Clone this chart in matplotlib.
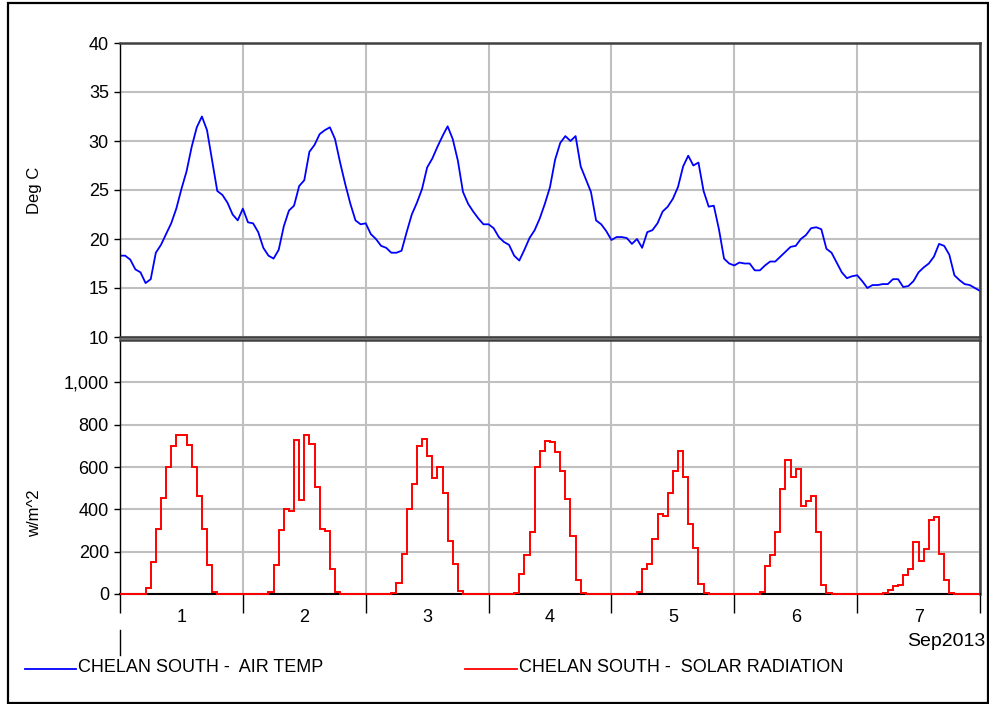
import numpy as np
import matplotlib
matplotlib.use("Agg")
import matplotlib.pyplot as plt
from matplotlib.lines import Line2D
from matplotlib.patches import Rectangle
from matplotlib.ticker import FuncFormatter

plt.rcParams['font.family'] = ['Liberation Sans', 'DejaVu Sans']

# hourly air temperature, deg C, 1-7 Sep 2013 (one list per day)
temp_d1 = [18.3, 18.3, 17.9, 16.9, 16.6, 15.5, 15.9, 18.6, 19.4, 20.5, 21.6, 23.1,
           25.1, 26.9, 29.4, 31.4, 32.5, 31.1, 28.0, 24.9, 24.5, 23.7, 22.5, 21.9]
temp_d2 = [23.1, 21.7, 21.6, 20.7, 19.1, 18.3, 18.0, 18.9, 21.3, 22.9, 23.4, 25.4,
           26.0, 28.9, 29.6, 30.7, 31.1, 31.4, 30.2, 27.8, 25.6, 23.6, 21.9, 21.5]
temp_d3 = [21.6, 20.5, 20.0, 19.3, 19.1, 18.6, 18.6, 18.8, 20.7, 22.5, 23.7, 25.1,
           27.3, 28.2, 29.4, 30.5, 31.5, 30.2, 28.0, 24.8, 23.6, 22.8, 22.1, 21.5]
temp_d4 = [21.5, 21.1, 20.2, 19.7, 19.4, 18.3, 17.8, 18.9, 20.1, 20.9, 22.1, 23.6,
           25.3, 28.1, 29.8, 30.5, 30.0, 30.5, 27.4, 26.1, 24.8, 21.9, 21.5, 20.8]
temp_d5 = [19.9, 20.2, 20.2, 20.1, 19.5, 20.0, 19.1, 20.7, 20.9, 21.6, 22.8, 23.3,
           24.1, 25.3, 27.4, 28.5, 27.5, 27.8, 24.9, 23.3, 23.4, 21.0, 18.0, 17.5]
temp_d6 = [17.3, 17.6, 17.5, 17.5, 16.8, 16.8, 17.3, 17.7, 17.7, 18.2, 18.7, 19.2,
           19.3, 20.0, 20.4, 21.1, 21.2, 21.0, 19.0, 18.6, 17.6, 16.6, 16.0, 16.2]
temp_d7 = [16.3, 15.7, 15.0, 15.3, 15.3, 15.4, 15.4, 15.9, 15.9, 15.1, 15.2, 15.7,
           16.6, 17.1, 17.5, 18.2, 19.5, 19.3, 18.4, 16.3, 15.8, 15.4, 15.3, 15.0]
temp_end = [14.7]

# hourly solar radiation, w/m^2 (one list per day)
sol_d1 = [0, 0, 0, 0, 0, 27, 153, 307, 455, 602, 700, 751,
          751, 705, 602, 465, 305, 139, 8, 0, 0, 0, 0, 0]
sol_d2 = [0, 0, 0, 0, 0, 8, 139, 302, 400, 392, 726, 444,
          749, 708, 504, 307, 299, 120, 8, 0, 0, 0, 0, 0]
sol_d3 = [0, 0, 0, 0, 0, 5, 52, 191, 402, 520, 697, 734,
          653, 547, 598, 476, 251, 144, 14, 0, 0, 0, 0, 0]
sol_d4 = [0, 0, 0, 0, 0, 6, 93, 185, 291, 602, 674, 721,
          718, 670, 579, 447, 275, 65, 6, 0, 0, 0, 0, 0]
sol_d5 = [0, 0, 0, 0, 0, 9, 120, 141, 262, 378, 370, 479,
          579, 674, 552, 329, 217, 46, 5, 0, 0, 0, 0, 0]
sol_d6 = [0, 0, 0, 0, 0, 8, 131, 183, 291, 498, 631, 552,
          590, 416, 441, 463, 294, 44, 5, 0, 0, 0, 0, 0]
sol_d7 = [0, 0, 0, 0, 0, 5, 21, 36, 43, 92, 119, 247,
          157, 212, 349, 364, 188, 65, 5, 0, 0, 0, 0, 0]

day_labels = ["1", "2", "3", "4", "5", "6", "7"]
month_label = "Sep2013"
temp_name = "CHELAN SOUTH -  AIR TEMP"
sol_name = "CHELAN SOUTH -  SOLAR RADIATION"

temp = temp_d1 + temp_d2 + temp_d3 + temp_d4 + temp_d5 + temp_d6 + temp_d7 + temp_end
sol = sol_d1 + sol_d2 + sol_d3 + sol_d4 + sol_d5 + sol_d6 + sol_d7
hours = np.arange(len(temp))
ndays = len(day_labels)

W, H = 989, 704
fig = plt.figure(figsize=(W / 100, H / 100), dpi=100)

def fx(px):
    return px / W

def fy(py):
    return 1 - py / H

ax1 = fig.add_axes([fx(120), fy(337), fx(980) - fx(120), fy(43) - fy(337)])
ax2 = fig.add_axes([fx(120), fy(594), fx(980) - fx(120), fy(340) - fy(594)])

grid_c = "#c0c0c0"
dark = "#404040"

for ax in (ax1, ax2):
    ax.set_xlim(0, 24 * ndays)
    ax.set_xticks(np.arange(0, 24 * ndays + 1, 24))
    ax.grid(True, color=grid_c, lw=1.5)
    ax.set_axisbelow(True)
    ax.spines['left'].set_color('black')
    ax.spines['left'].set_linewidth(1.0)
    for s in ('top', 'right'):
        ax.spines[s].set_color(dark)
        ax.spines[s].set_linewidth(1.8)
    ax.tick_params(axis='y', direction='out', length=4.5, width=1, pad=3.5,
                   labelsize=13, colors='black')

# top panel: air temperature
ax1.plot(hours, temp, color='#0000ff', lw=1.3)
ax1.set_ylim(10, 40)
ax1.set_yticks(np.arange(10, 41, 5))
ax1.spines['bottom'].set_color(dark)
ax1.spines['bottom'].set_linewidth(1.8)
ax1.tick_params(axis='x', length=0, labelbottom=False)
ax1.set_ylabel("Deg C", fontsize=12)
ax1.yaxis.set_label_coords(-0.091, 0.5)

# bottom panel: solar radiation
ax2.stairs(sol, np.arange(len(sol) + 1), color='#ff0000', lw=1.4,
           baseline=None, clip_on=False, zorder=5)
ax2.set_ylim(0, 1200)
ax2.set_yticks(np.arange(0, 1001, 200))
ax2.yaxis.set_major_formatter(FuncFormatter(lambda v, p: f"{v:,.0f}"))
ax2.spines['bottom'].set_color('black')
ax2.spines['bottom'].set_linewidth(1.5)
ax2.tick_params(axis='x', which='major', direction='out', length=14, width=1,
                labelbottom=False)
ax2.set_xticks(np.arange(12, 24 * ndays, 24), minor=True)
ax2.set_xticklabels(day_labels, minor=True)
ax2.tick_params(axis='x', which='minor', length=0, pad=11, labelsize=13)
ax2.set_ylabel("w/m^2", fontsize=12)
ax2.yaxis.set_label_coords(-0.091, 0.32)
ax2.axvline(0, ymin=-0.24, ymax=-0.142, color='black', lw=1, clip_on=False)

fig.text(fx(985), fy(642), month_label, ha='right', va='center', fontsize=14)

# legend
for x0, x1, c, name in ((25, 76, '#0000ff', temp_name), (465, 517, '#ff0000', sol_name)):
    fig.add_artist(Line2D([fx(x0), fx(x1)], [fy(669), fy(669)], color=c, lw=1.3))
    fig.text(fx(x1 + 2), fy(668), name, ha='left', va='center', fontsize=13)

# outer frame
fig.add_artist(Rectangle((fx(8), fy(703)), fx(988) - fx(8), fy(3) - fy(703),
                         transform=fig.transFigure, fill=False, ec='black', lw=1.6))

fig.savefig("out.png", dpi=100)
